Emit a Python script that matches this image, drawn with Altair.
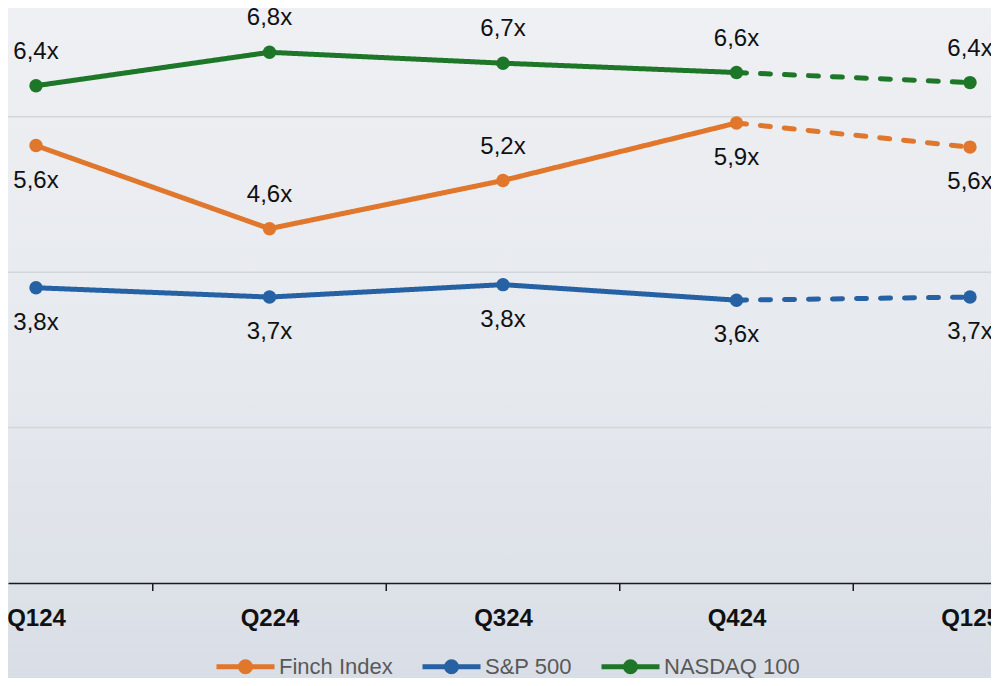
import altair as alt
import pandas as pd

# ---------------- data ----------------
quarters = ["Q124", "Q224", "Q324", "Q424", "Q125"]
series_names = ["Finch Index", "S&P 500", "NASDAQ 100"]
finch = [5.63, 4.56, 5.18, 5.92, 5.61]
sp500 = [3.80, 3.68, 3.84, 3.64, 3.68]
nasdaq = [6.40, 6.83, 6.69, 6.57, 6.44]
finch_label_side = ["below", "above", "above", "below", "below"]
sp500_label_side = ["below", "below", "below", "below", "below"]
nasdaq_label_side = ["above", "above", "above", "above", "above"]
last_actual_index = 3          # Q424: after this the line is dashed (projection)
grid_values = [2, 4, 6]
colors = ["#E0772D", "#2662A3", "#1E7628"]

series_values = [finch, sp500, nasdaq]
series_sides = [finch_label_side, sp500_label_side, nasdaq_label_side]

point_rows, line_rows = [], []
for name, vals, sides in zip(series_names, series_values, series_sides):
    for i, v in enumerate(vals):
        point_rows.append({"series": name, "idx": i, "value": v, "side": sides[i]})
        if i <= last_actual_index:
            line_rows.append({"series": name, "idx": i, "value": v, "segment": "actual"})
        if i >= last_actual_index:
            line_rows.append({"series": name, "idx": i, "value": v, "segment": "projected"})
points_df = pd.DataFrame(point_rows)
lines_df = pd.DataFrame(line_rows)
ticks_df = pd.DataFrame({"t": [i + 0.5 for i in range(len(quarters) - 1)]})
grid_df = pd.DataFrame({"g": grid_values})

# ---------------- layout ----------------
W, H = 983, 575
TOTAL_H = 670
step = 233.5
x0 = -28 / step
x_scale = alt.Scale(domain=[x0, x0 + W / step], nice=False, zero=False)
y_scale = alt.Scale(domain=[0, H / 77.7], nice=False, zero=False)
FONT = "Liberation Sans"

label_expr = "[" + ",".join("'%s'" % q for q in quarters) + "][round(datum.value)]"
x_axis = alt.Axis(values=list(range(len(quarters))), labelExpr=label_expr, ticks=False,
                  grid=False, domain=True, domainColor="#1a1a1a", domainWidth=1.5,
                  labelFontSize=24, labelFontWeight="bold", labelFont=FONT,
                  labelColor="#111111", labelPadding=23, labelFlush=False,
                  labelOverlap=False, title=None, zindex=1)


def X(field):
    return alt.X(field, scale=x_scale, axis=x_axis)


def Y(field):
    return alt.Y(field, scale=y_scale, axis=None)


bg = alt.Chart(alt.Data(values=[{}])).mark_rect(
    color=alt.Gradient(gradient="linear",
                       stops=[alt.GradientStop(color="#eef0f3", offset=0),
                              alt.GradientStop(color="#e6e9ee", offset=0.55),
                              alt.GradientStop(color="#d9dee6", offset=1)],
                       x1=0, x2=0, y1=0, y2=1)
).encode(x=alt.value(0), x2=alt.value(W), y=alt.value(0), y2=alt.value(TOTAL_H))

grid = alt.Chart(grid_df).mark_rule(color="#d3d5d9", strokeWidth=1.5).encode(
    y=Y("g:Q"), x=alt.value(0), x2=alt.value(W))

tick_marks = alt.Chart(ticks_df).mark_rule(color="#1a1a1a", strokeWidth=1.5).encode(
    x=X("t:Q"), y=alt.value(H), y2=alt.value(H + 8))

legend_symbol = ("M-1,0L1,0"
                 "M0.1724,0A0.1724,0.1724,0,1,1,-0.1724,0A0.1724,0.1724,0,1,1,0.1724,0"
                 "M0.0862,0A0.0862,0.0862,0,1,1,-0.0862,0A0.0862,0.0862,0,1,1,0.0862,0")

lines = alt.Chart(lines_df).mark_line(strokeWidth=5, strokeCap="round").encode(
    x=X("idx:Q"),
    y=Y("value:Q"),
    color=alt.Color("series:N", sort=series_names,
                    scale=alt.Scale(domain=series_names, range=colors),
                    legend=alt.Legend(title=None, orient="none", legendX=206, legendY=627,
                                      direction="horizontal", symbolType=legend_symbol,
                                      symbolSize=3364, symbolStrokeWidth=5,
                                      labelFontSize=22, labelFont=FONT, labelColor="#595959",
                                      labelOffset=2, columnPadding=19, padding=0,
                                      labelLimit=400)),
    strokeDash=alt.StrokeDash("segment:N",
                              scale=alt.Scale(domain=["actual", "projected"],
                                              range=[[1, 0], [10, 14]]),
                              legend=None),
)

pts = alt.Chart(points_df).mark_point(filled=True, size=180, opacity=1).encode(
    x=X("idx:Q"),
    y=Y("value:Q"),
    fill=alt.Fill("series:N", scale=alt.Scale(domain=series_names, range=colors), legend=None),
)

label_base = alt.Chart(points_df).transform_calculate(
    label="replace(format(datum.value, '.1f'), '.', ',') + 'x'")
labels_above = label_base.transform_filter("datum.side == 'above'").mark_text(
    fontSize=24, font=FONT, color="#111111", dy=-34, baseline="middle").encode(
    x=X("idx:Q"), y=Y("value:Q"), text="label:N")
labels_below = label_base.transform_filter("datum.side == 'below'").mark_text(
    fontSize=24, font=FONT, color="#111111", dy=35, baseline="middle").encode(
    x=X("idx:Q"), y=Y("value:Q"), text="label:N")

chart = alt.layer(bg, grid, tick_marks, lines, pts, labels_above, labels_below).properties(
    width=W, height=H,
    autosize=alt.AutoSizeParams(type="none"),
    padding={"left": 0, "top": 0, "right": 0, "bottom": TOTAL_H - H},
    background="#e4e7ec",
).configure_view(stroke=None)

chart.save("out.html", embed_options={"renderer": "svg", "actions": False})
